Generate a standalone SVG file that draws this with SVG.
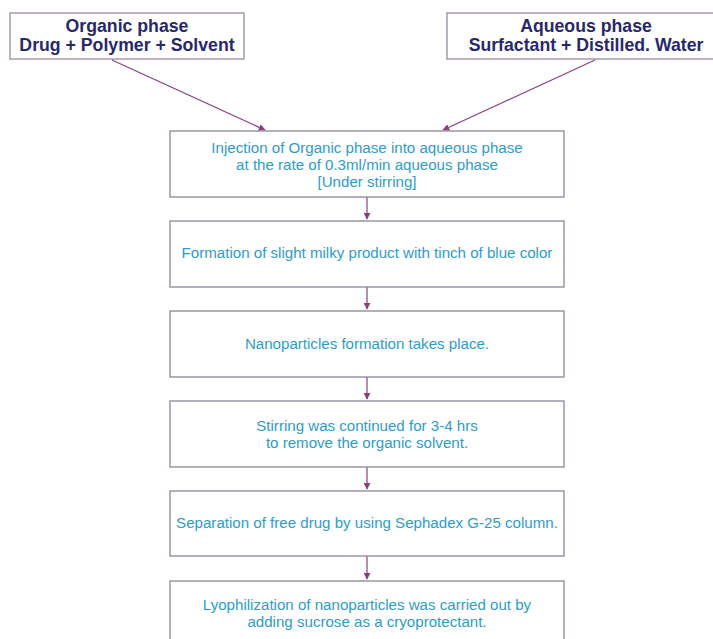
<svg xmlns="http://www.w3.org/2000/svg" width="713" height="639" viewBox="0 0 713 639">
<defs>
<marker id="ah" viewBox="0 0 10 10" refX="9" refY="5" markerWidth="7" markerHeight="7" markerUnits="userSpaceOnUse" orient="auto">
<path d="M0,0 L10,5 L0,10 z" fill="#8a3f80"/>
</marker>
</defs>
<style>
.box{fill:#ffffff;stroke:#8c8598;stroke-width:1.3}
.tbox{fill:#ffffff;stroke:#9a8aa0;stroke-width:1.3}
.t{font-family:"Liberation Sans",Arial,sans-serif;font-size:15.1px;fill:#2e9cc8;text-anchor:middle}
.h{font-family:"Liberation Sans",Arial,sans-serif;font-size:17.7px;font-weight:bold;fill:#27286a;text-anchor:middle}
.c{stroke:#8a3f80;stroke-width:1.2;fill:none;marker-end:url(#ah)}
</style>
<rect width="713" height="639" fill="#ffffff"/>
<g id="connectors">
<line class="c" x1="112" y1="60" x2="265" y2="130"/>
<line class="c" x1="595" y1="60" x2="443" y2="130"/>
<line class="c" x1="367" y1="197" x2="367" y2="219"/>
<line class="c" x1="367" y1="287" x2="367" y2="309"/>
<line class="c" x1="367" y1="377" x2="367" y2="399"/>
<line class="c" x1="367" y1="467" x2="367" y2="489"/>
<line class="c" x1="367" y1="556" x2="367" y2="579"/>
</g>
<g id="organic">
<rect class="tbox" x="10" y="13" width="234" height="46"/>
<text class="h" x="127" y="32">Organic phase</text>
<text class="h" x="127" y="51">Drug + Polymer + Solvent</text>
</g>
<g id="aqueous">
<rect class="tbox" x="447" y="13" width="280" height="46"/>
<text class="h" x="586" y="32">Aqueous phase</text>
<text class="h" x="586" y="51">Surfactant + Distilled. Water</text>
</g>
<g id="injection">
<rect class="box" x="170" y="131" width="394" height="66"/>
<text class="t" x="367" y="153">Injection of Organic phase into aqueous phase</text>
<text class="t" x="367" y="170">at the rate of 0.3ml/min aqueous phase</text>
<text class="t" x="367" y="187">[Under stirring]</text>
</g>
<g id="formation">
<rect class="box" x="170" y="221" width="394" height="66"/>
<text class="t" x="367" y="258">Formation of slight milky product with tinch of blue color</text>
</g>
<g id="nanoparticles">
<rect class="box" x="170" y="311" width="394" height="66"/>
<text class="t" x="367" y="349">Nanoparticles formation takes place.</text>
</g>
<g id="stirring">
<rect class="box" x="170" y="401" width="394" height="66"/>
<text class="t" x="367" y="431">Stirring was continued for 3-4 hrs</text>
<text class="t" x="367" y="448">to remove the organic solvent.</text>
</g>
<g id="separation">
<rect class="box" x="170" y="491" width="394" height="65"/>
<text class="t" x="367" y="528">Separation of free drug by using Sephadex G-25 column.</text>
</g>
<g id="lyophilization">
<rect class="box" x="170" y="581" width="394" height="70"/>
<text class="t" x="367" y="610">Lyophilization of nanoparticles was carried out by</text>
<text class="t" x="367" y="627">adding sucrose as a cryoprotectant.</text>
</g>
</svg>
